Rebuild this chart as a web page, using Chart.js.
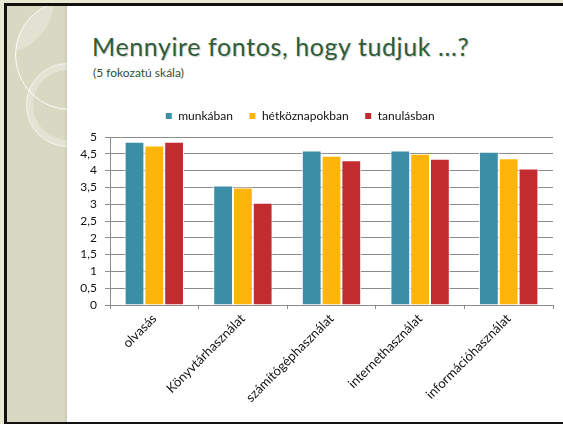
<!DOCTYPE html>
<html>
<head>
<meta charset="utf-8">
<script src="https://cdn.jsdelivr.net/npm/chart.js@4.4.1/dist/chart.umd.min.js"></script>
<style>
  html, body { margin: 0; padding: 0; }
  body { width: 563px; height: 424px; background: #e9e9d2; position: relative; overflow: hidden; font-family: Lato, sans-serif; }
  #slide { position: absolute; left: 4px; top: 3px; width: 565px; height: 416px; background: #fff;
           border-left: 3px solid #111; border-top: 3px solid #111; border-bottom: 3px solid #111; }
  #panel { position: absolute; left: 7px; top: 6px; width: 60px; height: 416px; background: #d9d9c3; overflow: hidden;
           box-shadow: inset -3px 0 2px -1px rgba(0,0,0,0.06); }
  .ring { position: absolute; border-radius: 50%; box-sizing: border-box; }
  #title { position: absolute; left: 92px; top: 31px; font-size: 25px; letter-spacing: 0.6px; color: #2f5c39; white-space: nowrap;
           text-shadow: 1px 1px 1px rgba(0,0,0,0.2); }
  #subtitle { position: absolute; left: 93px; top: 65px; font-size: 12px; color: #2f4f35; white-space: nowrap; }
  #wrap { position: absolute; left: 0; top: 0; width: 563px; height: 424px; }
</style>
</head>
<body>
<div id="slide"></div>
<div id="panel">
  <div class="ring" style="left:8px;top:-6px;width:110px;height:110px;border:1.5px solid rgba(255,255,255,0.9);overflow:hidden;">
    <div class="ring" style="left:-72px;top:-57px;width:110px;height:110px;background:rgba(255,255,255,0.25);"></div>
  </div>
  <div class="ring" style="left:19px;top:57px;width:84px;height:84px;border:7px solid rgba(255,255,255,0.28);"></div>
  <div class="ring" style="left:19px;top:57px;width:84px;height:84px;border:1px solid rgba(255,255,255,0.55);"></div>
</div>
<div id="title">Mennyire fontos, hogy tudjuk ...?</div>
<div id="subtitle">(5 fokozatú skála)</div>
<div id="wrap"><canvas id="chart"></canvas></div>
<script>
const categories = ["olvasás", "Könyvtárhasználat", "számítógéphasználat", "internethasználat", "információhasználat"];
const munkaban = [4.86, 3.56, 4.6, 4.6, 4.56];
const hetkoznapokban = [4.75, 3.5, 4.44, 4.5, 4.37];
const tanulasban = [4.86, 3.04, 4.31, 4.35, 4.06];

// a little extra room under the legend
const legendMargin = {
  id: "legendMargin",
  beforeInit: function (chart) {
    const fit = chart.legend.fit;
    chart.legend.fit = function () {
      fit.bind(chart.legend)();
      this.height += 5;
    };
  }
};

const ctx = document.getElementById("chart").getContext("2d");

const chart = new Chart(ctx, {
  type: "bar",
  data: {
    labels: categories,
    datasets: [
      { label: "munkában", data: munkaban, backgroundColor: "#3a8fa7" },
      { label: "hétköznapokban", data: hetkoznapokban, backgroundColor: "#fdb50c" },
      { label: "tanulásban", data: tanulasban, backgroundColor: "#c22c2f" }
    ]
  },
  options: {
    responsive: true,
    maintainAspectRatio: false,
    animation: false,
    layout: { padding: { left: 47, right: 10, top: 94, bottom: 0 } },
    datasets: {
      bar: {
        categoryPercentage: 0.67,
        barPercentage: 1.0,
        borderColor: "#ffffff",
        borderWidth: 1
      }
    },
    plugins: {
      legend: {
        position: "top",
        labels: {
          font: { family: "Lato", size: 12 },
          color: "#111",
          boxWidth: 7,
          boxHeight: 7,
          padding: 16
        }
      },
      tooltip: { enabled: false }
    },
    scales: {
      x: {
        afterFit: function (scale) { scale.height = 119; },
        grid: { display: true, offset: true, drawOnChartArea: false, drawTicks: true, tickLength: 4, color: "#8c8c8c" },
        border: { display: true, color: "#8c8c8c" },
        ticks: {
          font: { family: "Lato", size: 13 },
          color: "#111",
          minRotation: 45,
          maxRotation: 45,
          padding: 2
        }
      },
      y: {
        min: 0,
        max: 5,
        afterFit: function (scale) { scale.width = 63; },
        grid: { color: "#8c8c8c", tickLength: 5 },
        border: { display: true, color: "#8c8c8c" },
        ticks: {
          stepSize: 0.5,
          autoSkip: false,
          maxTicksLimit: 20,
          padding: 8,
          font: { family: "Lato", size: 12 },
          color: "#111",
          callback: function (value) { return String(value).replace(".", ","); }
        }
      }
    }
  },
  plugins: [legendMargin]
});
</script>
</body>
</html>
